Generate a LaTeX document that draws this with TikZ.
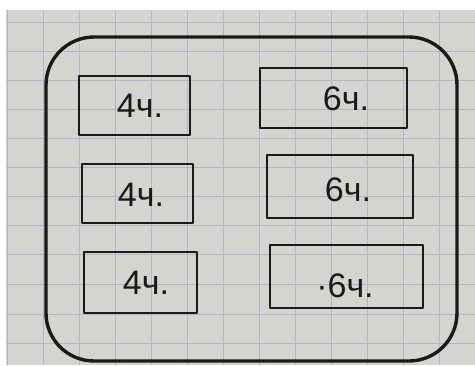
\documentclass[tikz,border=0pt]{standalone}
\usepackage{fontspec}
\setmainfont{Liberation Sans}
\definecolor{paper}{RGB}{214,212,206}
\definecolor{gridc}{RGB}{168,184,208}
\definecolor{ink}{RGB}{28,26,24}
\tikzset{
  cell/.style={draw=ink, line width=2.6pt, line join=round, line cap=round},
  lbl/.style={text=ink, font=\fontsize{34}{34}\selectfont, inner sep=0pt},
  frame/.style={draw=ink, line width=3.4pt, rounded corners=48pt}
}
\begin{document}
\begin{tikzpicture}[x=1pt,y=-1pt]
\useasboundingbox (0,0) rectangle (475,365);
\fill[white] (0,0) rectangle (475,365);
\fill[paper] (6,10) rectangle (475,365);
\foreach \gx in {7,43,79,115,151,187,223,259,295,331,367,403,439}
  \draw[gridc, line width=1pt] (\gx,10) -- (\gx,365);
\foreach \gy in {22,51,80,109,138,167,196,225,254,284,314,343}
  \draw[gridc, line width=1pt] (6,\gy) -- (475,\gy);
% outer rounded frame
\draw[frame] (46,37) rectangle (457,361);
% boxes
\draw[cell] (79,76) rectangle (190,135) coordinate (l1);
\draw[cell] (82,164) rectangle (193,223) coordinate (l2);
\draw[cell] (84,252) rectangle (197,313) coordinate (l3);
\draw[cell] (260,68) rectangle (407,128) coordinate (r1);
\draw[cell] (267,155) rectangle (413,218) coordinate (r2);
\draw[cell] (270,245) rectangle (423,308) coordinate (r3);
% labels
\node[lbl] (tl1) at (140,106) {4ч.};
\node[lbl] (tl2) at (141,195) {4ч.};
\node[lbl] (tl3) at (146,283) {4ч.};
\node[lbl] (tr1) at (346,99) {6ч.};
\node[lbl] (tr2) at (348,190) {6ч.};
\node[lbl] (tr3) at (345,286) {·6ч.};
\end{tikzpicture}
\end{document}
